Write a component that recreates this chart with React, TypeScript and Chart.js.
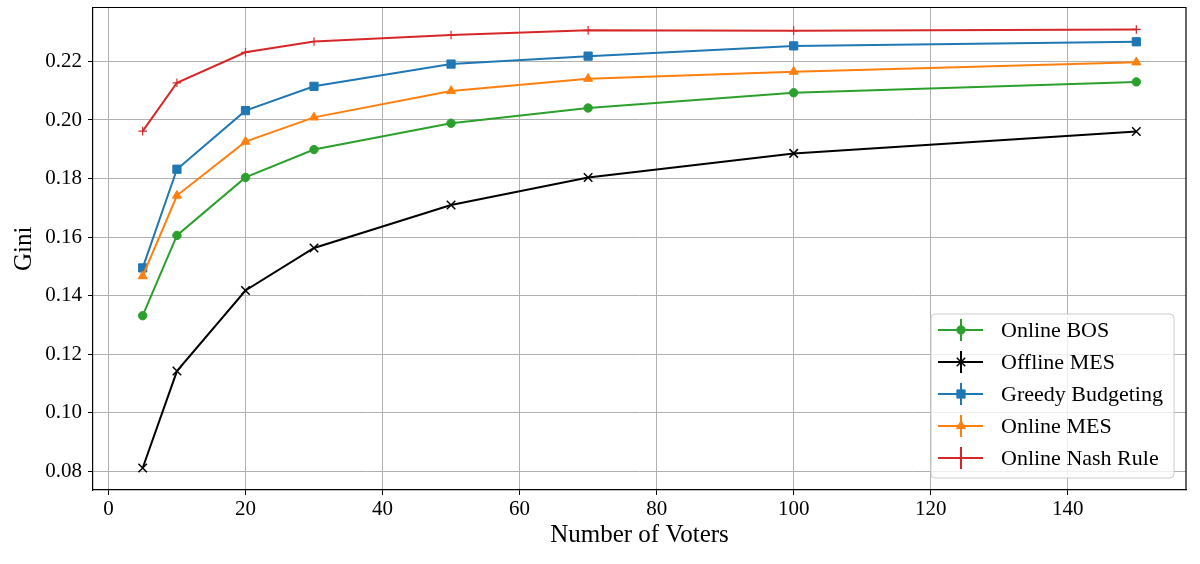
import React, { useEffect, useRef } from 'react';
import { Chart, registerables } from 'chart.js';

Chart.register(...registerables);

const voters = [5, 10, 20, 30, 50, 70, 100, 150];
const onlineBOS = [0.1332, 0.1606, 0.1804, 0.1899, 0.1989, 0.2041, 0.2093, 0.2130];
const offlineMES = [0.0812, 0.1143, 0.1418, 0.1563, 0.1710, 0.1804, 0.1886, 0.1961];
const greedyBudgeting = [0.1495, 0.1832, 0.2032, 0.2115, 0.2191, 0.2218, 0.2253, 0.2267];
const onlineMES = [0.1467, 0.1742, 0.1926, 0.2009, 0.2099, 0.2141, 0.2165, 0.2197];
const onlineNash = [0.1962, 0.2127, 0.2231, 0.2268, 0.2290, 0.2306, 0.2305, 0.2309];

const seriesNames = ['Online BOS', 'Offline MES', 'Greedy Budgeting', 'Online MES', 'Online Nash Rule'];
const seriesValues = [onlineBOS, offlineMES, greedyBudgeting, onlineMES, onlineNash];
const seriesColors = ['#2ca02c', '#000000', '#1f77b4', '#ff7f0e', '#d62728'];
const seriesMarkers = ['circle', 'crossRot', 'rect', 'triangle', 'cross'];
const markerRadius = [4.2, 6, 5.8, 5.2, 4.3];
const markerBorder = [1, 1.5, 1, 1, 1.2];

const xTicks = [0, 20, 40, 60, 80, 100, 120, 140];
const yTicks = [0.08, 0.10, 0.12, 0.14, 0.16, 0.18, 0.20, 0.22];

const FONT = "'Liberation Serif', 'Times New Roman', serif";

function drawMarker(ctx: CanvasRenderingContext2D, style: string, r: number, x: number, y: number, color: string, bw: number) {
  ctx.save();
  ctx.fillStyle = color;
  ctx.strokeStyle = color;
  ctx.lineWidth = bw;
  ctx.beginPath();
  if (style === 'circle') {
    ctx.arc(x, y, r, 0, Math.PI * 2);
    ctx.fill();
    ctx.stroke();
  } else if (style === 'rect') {
    const s = r * Math.SQRT1_2;
    ctx.rect(x - s, y - s, 2 * s, 2 * s);
    ctx.fill();
    ctx.stroke();
  } else if (style === 'triangle') {
    let rad = 0;
    ctx.moveTo(x + Math.sin(rad) * r, y - Math.cos(rad) * r);
    rad += (2 * Math.PI) / 3;
    ctx.lineTo(x + Math.sin(rad) * r, y - Math.cos(rad) * r);
    rad += (2 * Math.PI) / 3;
    ctx.lineTo(x + Math.sin(rad) * r, y - Math.cos(rad) * r);
    ctx.closePath();
    ctx.fill();
    ctx.stroke();
  } else if (style === 'crossRot') {
    const o = r * Math.SQRT1_2;
    ctx.moveTo(x - o, y - o);
    ctx.lineTo(x + o, y + o);
    ctx.moveTo(x - o, y + o);
    ctx.lineTo(x + o, y - o);
    ctx.stroke();
  } else if (style === 'cross') {
    ctx.moveTo(x, y - r);
    ctx.lineTo(x, y + r);
    ctx.moveTo(x - r, y);
    ctx.lineTo(x + r, y);
    ctx.stroke();
  }
  ctx.restore();
}

const framePlugin = {
  id: 'mplFrame',
  afterDatasetsDraw(chart: any) {
    const ctx = chart.ctx as CanvasRenderingContext2D;
    const a = chart.chartArea;
    ctx.save();
    ctx.strokeStyle = '#000';
    ctx.lineWidth = 1.2;
    ctx.beginPath();
    ctx.moveTo(a.left, a.top);
    ctx.lineTo(a.right, a.top);
    ctx.lineTo(a.right, a.bottom);
    ctx.stroke();
    ctx.restore();
  },
};

const legendPlugin = {
  id: 'mplLegend',
  afterDraw(chart: any) {
    const ctx = chart.ctx as CanvasRenderingContext2D;
    const left = 931, top = 314, right = 1174, bottom = 478;
    ctx.save();
    const r = 4;
    ctx.beginPath();
    ctx.moveTo(left + r, top);
    ctx.lineTo(right - r, top);
    ctx.arcTo(right, top, right, top + r, r);
    ctx.lineTo(right, bottom - r);
    ctx.arcTo(right, bottom, right - r, bottom, r);
    ctx.lineTo(left + r, bottom);
    ctx.arcTo(left, bottom, left, bottom - r, r);
    ctx.lineTo(left, top + r);
    ctx.arcTo(left, top, left + r, top, r);
    ctx.closePath();
    ctx.fillStyle = 'rgba(255,255,255,0.8)';
    ctx.fill();
    ctx.strokeStyle = '#cccccc';
    ctx.lineWidth = 1;
    ctx.stroke();

    for (let i = 0; i < seriesNames.length; i++) {
      const y = 330 + i * 32;
      const color = seriesColors[i];
      ctx.strokeStyle = color;
      ctx.lineWidth = 2;
      ctx.beginPath();
      ctx.moveTo(938, y);
      ctx.lineTo(983, y);
      ctx.stroke();
      ctx.beginPath();
      ctx.moveTo(961, y - 11);
      ctx.lineTo(961, y + 11);
      ctx.stroke();
      drawMarker(ctx, seriesMarkers[i], markerRadius[i], 961, y, color, markerBorder[i]);
      ctx.fillStyle = '#000';
      ctx.font = `22px ${FONT}`;
      ctx.textBaseline = 'middle';
      ctx.textAlign = 'left';
      ctx.fillText(seriesNames[i], 1001, y + 1);
    }
    ctx.restore();
  },
};

export default function App() {
  const canvasRef = useRef<HTMLCanvasElement | null>(null);

  useEffect(() => {
    const canvas = canvasRef.current;
    if (!canvas) return;
    const datasets = seriesNames.map((name, i) => ({
      label: name,
      data: voters.map((v, j) => ({ x: v, y: seriesValues[i][j] })),
      borderColor: seriesColors[i],
      backgroundColor: seriesColors[i],
      borderWidth: 2,
      pointStyle: seriesMarkers[i] as any,
      pointRadius: markerRadius[i],
      pointBorderWidth: markerBorder[i],
      pointBackgroundColor: seriesColors[i],
      pointBorderColor: seriesColors[i],
      tension: 0,
      fill: false,
      order: seriesNames.length - i,
    }));

    const chart = new Chart(canvas, {
      type: 'line',
      data: { datasets },
      options: {
        animation: false,
        responsive: false,
        maintainAspectRatio: false,
        layout: { padding: { left: 0, right: 14, top: 7, bottom: 0 } },
        plugins: {
          legend: { display: false },
          tooltip: { enabled: false },
        },
        scales: {
          x: {
            type: 'linear',
            min: -2.25,
            max: 157.25,
            afterBuildTicks: (scale: any) => {
              scale.ticks = xTicks.map((v) => ({ value: v }));
            },
            afterFit: (scale: any) => {
              scale.height = 74;
              scale.paddingLeft = 0;
              scale.paddingRight = 0;
            },
            border: { display: true, color: '#000', width: 1.2 },
            grid: { color: '#b0b0b0', lineWidth: 1, tickColor: '#000', tickLength: 5, drawTicks: true },
            ticks: {
              color: '#000',
              font: { family: FONT, size: 21 },
              padding: 2,
              maxRotation: 0,
              autoSkip: false,
              callback: (v: any) => String(v),
            },
            title: {
              display: true,
              text: 'Number of Voters',
              color: '#000',
              font: { family: FONT, size: 25 },
              padding: { top: 0, bottom: 14 },
            },
          },
          y: {
            type: 'linear',
            min: 0.0737,
            max: 0.2384,
            afterBuildTicks: (scale: any) => {
              scale.ticks = yTicks.map((v) => ({ value: v }));
            },
            afterFit: (scale: any) => {
              scale.width = 93;
              scale.paddingTop = 0;
              scale.paddingBottom = 0;
            },
            border: { display: true, color: '#000', width: 1.2 },
            grid: { color: '#b0b0b0', lineWidth: 1, tickColor: '#000', tickLength: 5, drawTicks: true },
            ticks: {
              color: '#000',
              font: { family: FONT, size: 21 },
              padding: 6,
              autoSkip: false,
              callback: (v: any) => Number(v).toFixed(2),
            },
            title: {
              display: true,
              text: 'Gini',
              color: '#000',
              font: { family: FONT, size: 25 },
              padding: { top: 9, bottom: 0 },
            },
          },
        },
      },
      plugins: [framePlugin, legendPlugin],
    });
    return () => chart.destroy();
  }, []);

  return (
    <div style={{ position: 'fixed', left: 0, top: 0, width: 1200, height: 564, background: '#fff' }}>
      <canvas ref={canvasRef} width={1200} height={564} style={{ width: 1200, height: 564, display: 'block' }} />
    </div>
  );
}
